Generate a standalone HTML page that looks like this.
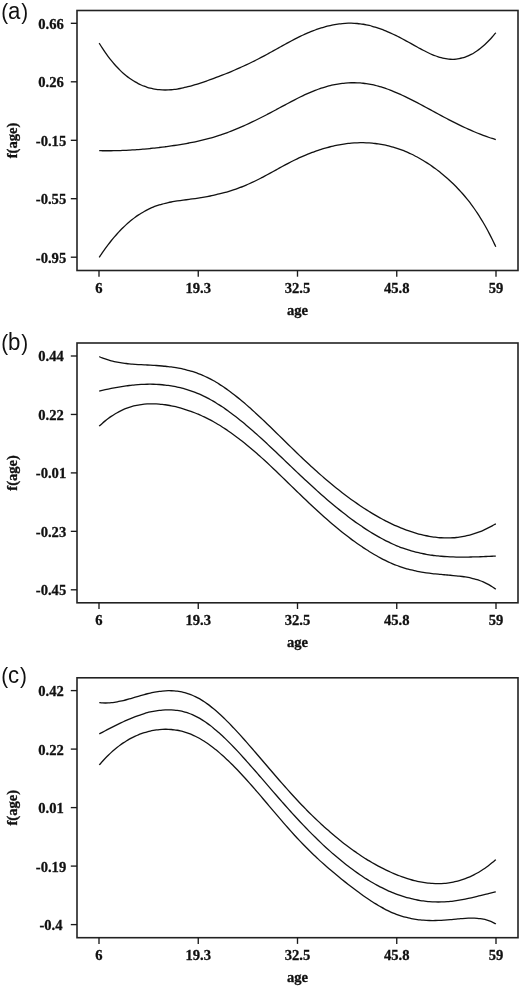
<!DOCTYPE html>
<html><head><meta charset="utf-8"><style>
html,body{margin:0;padding:0;background:#fff;width:520px;height:987px;overflow:hidden}
svg{display:block;will-change:transform}
.ax{fill:none;stroke:#222;stroke-width:1.6;stroke-linecap:square}
.tk{stroke:#1a1a1a;stroke-width:1.35;stroke-linecap:butt}
.cv{fill:none;stroke:#111;stroke-width:1.3}
.tl{font-family:"Liberation Serif",serif;font-weight:bold;font-size:14.6px;fill:#111;stroke:#111;stroke-width:0.3}
.pl{font-family:"Liberation Sans",sans-serif;font-size:23.5px;fill:#111;stroke:#111;stroke-width:0}
</style></head><body>
<svg width="520" height="987" viewBox="0 0 520 987">
<rect x="77.00" y="10.50" width="441.00" height="260.00" class="ax"/>
<line x1="70.80" y1="23.30" x2="77.00" y2="23.30" class="tk"/>
<text x="51.00" y="28.70" class="tl" text-anchor="middle">0.66</text>
<line x1="70.80" y1="81.80" x2="77.00" y2="81.80" class="tk"/>
<text x="51.00" y="87.20" class="tl" text-anchor="middle">0.26</text>
<line x1="70.80" y1="140.30" x2="77.00" y2="140.30" class="tk"/>
<text x="51.00" y="145.70" class="tl" text-anchor="middle">-0.15</text>
<line x1="70.80" y1="198.70" x2="77.00" y2="198.70" class="tk"/>
<text x="51.00" y="204.10" class="tl" text-anchor="middle">-0.55</text>
<line x1="70.80" y1="257.20" x2="77.00" y2="257.20" class="tk"/>
<text x="51.00" y="262.60" class="tl" text-anchor="middle">-0.95</text>
<line x1="99.00" y1="270.50" x2="99.00" y2="276.70" class="tk"/>
<text x="99.00" y="292.80" class="tl" text-anchor="middle">6</text>
<line x1="198.25" y1="270.50" x2="198.25" y2="276.70" class="tk"/>
<text x="198.25" y="292.80" class="tl" text-anchor="middle">19.3</text>
<line x1="297.50" y1="270.50" x2="297.50" y2="276.70" class="tk"/>
<text x="297.50" y="292.80" class="tl" text-anchor="middle">32.5</text>
<line x1="396.75" y1="270.50" x2="396.75" y2="276.70" class="tk"/>
<text x="396.75" y="292.80" class="tl" text-anchor="middle">45.8</text>
<line x1="496.00" y1="270.50" x2="496.00" y2="276.70" class="tk"/>
<text x="496.00" y="292.80" class="tl" text-anchor="middle">59</text>
<text x="297.50" y="314.50" class="tl" text-anchor="middle">age</text>
<text x="0" y="0" class="tl" text-anchor="middle" transform="translate(16.70 140.50) rotate(-90)">f(age)</text>
<text x="0" y="0" class="pl" transform="translate(1.20 18.60) scale(0.945 1)"><tspan style="font-size:21.90px">(</tspan>a<tspan dx="0.9" style="font-size:21.90px">)</tspan></text>
<path d="M99.20 43.17 C99.70 43.96 101.20 46.39 102.20 47.93 C103.20 49.46 104.20 50.95 105.20 52.38 C106.20 53.82 107.20 55.20 108.20 56.54 C109.20 57.87 110.20 59.16 111.20 60.40 C112.20 61.65 113.20 62.84 114.20 63.99 C115.20 65.14 116.20 66.25 117.20 67.31 C118.20 68.37 119.20 69.38 120.20 70.36 C121.20 71.33 122.20 72.26 123.20 73.15 C124.20 74.04 125.20 74.89 126.20 75.70 C127.20 76.51 128.20 77.27 129.20 78.00 C130.20 78.73 131.20 79.42 132.20 80.08 C133.20 80.73 134.20 81.35 135.20 81.93 C136.20 82.51 137.20 83.06 138.20 83.57 C139.20 84.08 140.20 84.56 141.20 85.00 C142.20 85.44 143.20 85.85 144.20 86.23 C145.20 86.61 146.20 86.96 147.20 87.27 C148.20 87.59 149.20 87.87 150.20 88.13 C151.20 88.39 152.20 88.62 153.20 88.82 C154.20 89.02 155.20 89.19 156.20 89.34 C157.20 89.48 158.20 89.60 159.20 89.70 C160.20 89.79 161.20 89.86 162.20 89.91 C163.20 89.96 164.20 89.98 165.20 89.98 C166.20 89.98 167.20 89.96 168.20 89.92 C169.20 89.88 170.20 89.81 171.20 89.73 C172.20 89.65 173.20 89.55 174.20 89.43 C175.20 89.31 176.20 89.17 177.20 89.02 C178.20 88.86 179.20 88.69 180.20 88.51 C181.20 88.32 182.20 88.12 183.20 87.90 C184.20 87.69 185.20 87.46 186.20 87.22 C187.20 86.97 188.20 86.72 189.20 86.45 C190.20 86.19 191.20 85.91 192.20 85.62 C193.20 85.34 194.20 85.04 195.20 84.73 C196.20 84.43 197.20 84.11 198.20 83.79 C199.20 83.47 200.20 83.14 201.20 82.81 C202.20 82.48 203.20 82.14 204.20 81.79 C205.20 81.45 206.20 81.10 207.20 80.75 C208.20 80.40 209.20 80.04 210.20 79.68 C211.20 79.32 212.20 78.96 213.20 78.59 C214.20 78.23 215.20 77.86 216.20 77.48 C217.20 77.11 218.20 76.73 219.20 76.35 C220.20 75.96 221.20 75.58 222.20 75.18 C223.20 74.79 224.20 74.40 225.20 74.00 C226.20 73.60 227.20 73.19 228.20 72.78 C229.20 72.37 230.20 71.96 231.20 71.54 C232.20 71.12 233.20 70.70 234.20 70.27 C235.20 69.84 236.20 69.41 237.20 68.97 C238.20 68.53 239.20 68.09 240.20 67.64 C241.20 67.20 242.20 66.74 243.20 66.28 C244.20 65.82 245.20 65.36 246.20 64.89 C247.20 64.42 248.20 63.95 249.20 63.47 C250.20 62.99 251.20 62.50 252.20 62.01 C253.20 61.52 254.20 61.02 255.20 60.52 C256.20 60.01 257.20 59.50 258.20 58.99 C259.20 58.47 260.20 57.95 261.20 57.43 C262.20 56.90 263.20 56.37 264.20 55.83 C265.20 55.29 266.20 54.75 267.20 54.20 C268.20 53.65 269.20 53.10 270.20 52.55 C271.20 52.00 272.20 51.44 273.20 50.89 C274.20 50.33 275.20 49.77 276.20 49.21 C277.20 48.66 278.20 48.10 279.20 47.54 C280.20 46.99 281.20 46.43 282.20 45.88 C283.20 45.32 284.20 44.77 285.20 44.22 C286.20 43.68 287.20 43.13 288.20 42.59 C289.20 42.05 290.20 41.52 291.20 40.99 C292.20 40.46 293.20 39.94 294.20 39.42 C295.20 38.91 296.20 38.40 297.20 37.90 C298.20 37.39 299.20 36.90 300.20 36.42 C301.20 35.94 302.20 35.46 303.20 35.00 C304.20 34.54 305.20 34.08 306.20 33.64 C307.20 33.20 308.20 32.77 309.20 32.36 C310.20 31.94 311.20 31.53 312.20 31.14 C313.20 30.75 314.20 30.37 315.20 30.00 C316.20 29.63 317.20 29.28 318.20 28.94 C319.20 28.60 320.20 28.27 321.20 27.96 C322.20 27.64 323.20 27.34 324.20 27.06 C325.20 26.77 326.20 26.50 327.20 26.24 C328.20 25.99 329.20 25.75 330.20 25.52 C331.20 25.30 332.20 25.08 333.20 24.89 C334.20 24.70 335.20 24.52 336.20 24.35 C337.20 24.19 338.20 24.04 339.20 23.91 C340.20 23.78 341.20 23.67 342.20 23.58 C343.20 23.48 344.20 23.40 345.20 23.34 C346.20 23.28 347.20 23.24 348.20 23.21 C349.20 23.19 350.20 23.18 351.20 23.19 C352.20 23.20 353.20 23.23 354.20 23.28 C355.20 23.33 356.20 23.40 357.20 23.49 C358.20 23.58 359.20 23.69 360.20 23.81 C361.20 23.94 362.20 24.09 363.20 24.26 C364.20 24.42 365.20 24.61 366.20 24.81 C367.20 25.02 368.20 25.24 369.20 25.48 C370.20 25.72 371.20 25.98 372.20 26.26 C373.20 26.53 374.20 26.82 375.20 27.13 C376.20 27.44 377.20 27.76 378.20 28.10 C379.20 28.44 380.20 28.79 381.20 29.16 C382.20 29.53 383.20 29.91 384.20 30.31 C385.20 30.70 386.20 31.11 387.20 31.54 C388.20 31.96 389.20 32.40 390.20 32.84 C391.20 33.29 392.20 33.75 393.20 34.22 C394.20 34.69 395.20 35.17 396.20 35.66 C397.20 36.15 398.20 36.66 399.20 37.17 C400.20 37.68 401.20 38.20 402.20 38.73 C403.20 39.26 404.20 39.80 405.20 40.35 C406.20 40.89 407.20 41.45 408.20 42.01 C409.20 42.56 410.20 43.12 411.20 43.69 C412.20 44.25 413.20 44.81 414.20 45.37 C415.20 45.93 416.20 46.49 417.20 47.04 C418.20 47.60 419.20 48.15 420.20 48.68 C421.20 49.22 422.20 49.76 423.20 50.27 C424.20 50.79 425.20 51.30 426.20 51.79 C427.20 52.29 428.20 52.77 429.20 53.23 C430.20 53.69 431.20 54.13 432.20 54.55 C433.20 54.97 434.20 55.38 435.20 55.75 C436.20 56.13 437.20 56.48 438.20 56.81 C439.20 57.14 440.20 57.44 441.20 57.71 C442.20 57.97 443.20 58.21 444.20 58.42 C445.20 58.62 446.20 58.80 447.20 58.93 C448.20 59.07 449.20 59.17 450.20 59.23 C451.20 59.29 452.20 59.31 453.20 59.29 C454.20 59.27 455.20 59.21 456.20 59.10 C457.20 59.00 458.20 58.85 459.20 58.67 C460.20 58.48 461.20 58.25 462.20 57.98 C463.20 57.71 464.20 57.39 465.20 57.04 C466.20 56.68 467.20 56.29 468.20 55.84 C469.20 55.40 470.20 54.92 471.20 54.40 C472.20 53.87 473.20 53.30 474.20 52.69 C475.20 52.08 476.20 51.42 477.20 50.73 C478.20 50.03 479.20 49.29 480.20 48.50 C481.20 47.72 482.20 46.89 483.20 46.02 C484.20 45.15 485.20 44.23 486.20 43.27 C487.20 42.31 488.20 41.31 489.20 40.26 C490.20 39.21 491.20 38.12 492.20 36.99 C493.20 35.85 494.60 34.16 495.20 33.45 C495.80 32.73 495.70 32.83 495.80 32.71" class="cv"/>
<path d="M99.20 150.68 C99.70 150.69 101.20 150.72 102.20 150.73 C103.20 150.74 104.20 150.75 105.20 150.75 C106.20 150.76 107.20 150.76 108.20 150.76 C109.20 150.75 110.20 150.75 111.20 150.74 C112.20 150.73 113.20 150.71 114.20 150.69 C115.20 150.68 116.20 150.65 117.20 150.63 C118.20 150.60 119.20 150.57 120.20 150.54 C121.20 150.51 122.20 150.47 123.20 150.43 C124.20 150.39 125.20 150.35 126.20 150.30 C127.20 150.25 128.20 150.20 129.20 150.15 C130.20 150.09 131.20 150.04 132.20 149.97 C133.20 149.91 134.20 149.85 135.20 149.78 C136.20 149.71 137.20 149.64 138.20 149.57 C139.20 149.49 140.20 149.41 141.20 149.33 C142.20 149.25 143.20 149.16 144.20 149.08 C145.20 148.99 146.20 148.90 147.20 148.80 C148.20 148.71 149.20 148.61 150.20 148.51 C151.20 148.41 152.20 148.30 153.20 148.19 C154.20 148.09 155.20 147.98 156.20 147.86 C157.20 147.75 158.20 147.63 159.20 147.51 C160.20 147.39 161.20 147.27 162.20 147.14 C163.20 147.02 164.20 146.89 165.20 146.76 C166.20 146.62 167.20 146.49 168.20 146.35 C169.20 146.21 170.20 146.07 171.20 145.93 C172.20 145.79 173.20 145.64 174.20 145.49 C175.20 145.34 176.20 145.19 177.20 145.03 C178.20 144.88 179.20 144.72 180.20 144.55 C181.20 144.39 182.20 144.22 183.20 144.05 C184.20 143.88 185.20 143.71 186.20 143.53 C187.20 143.35 188.20 143.16 189.20 142.97 C190.20 142.78 191.20 142.59 192.20 142.39 C193.20 142.19 194.20 141.99 195.20 141.77 C196.20 141.56 197.20 141.35 198.20 141.13 C199.20 140.90 200.20 140.67 201.20 140.44 C202.20 140.20 203.20 139.96 204.20 139.71 C205.20 139.46 206.20 139.21 207.20 138.95 C208.20 138.68 209.20 138.41 210.20 138.13 C211.20 137.86 212.20 137.57 213.20 137.28 C214.20 136.98 215.20 136.68 216.20 136.37 C217.20 136.06 218.20 135.74 219.20 135.41 C220.20 135.08 221.20 134.75 222.20 134.40 C223.20 134.06 224.20 133.71 225.20 133.35 C226.20 132.99 227.20 132.62 228.20 132.25 C229.20 131.87 230.20 131.49 231.20 131.10 C232.20 130.71 233.20 130.31 234.20 129.91 C235.20 129.50 236.20 129.09 237.20 128.67 C238.20 128.26 239.20 127.83 240.20 127.40 C241.20 126.97 242.20 126.53 243.20 126.09 C244.20 125.65 245.20 125.20 246.20 124.74 C247.20 124.29 248.20 123.83 249.20 123.36 C250.20 122.90 251.20 122.43 252.20 121.95 C253.20 121.47 254.20 120.99 255.20 120.50 C256.20 120.02 257.20 119.53 258.20 119.03 C259.20 118.53 260.20 118.03 261.20 117.53 C262.20 117.02 263.20 116.51 264.20 116.00 C265.20 115.49 266.20 114.97 267.20 114.45 C268.20 113.93 269.20 113.40 270.20 112.88 C271.20 112.35 272.20 111.82 273.20 111.28 C274.20 110.75 275.20 110.21 276.20 109.67 C277.20 109.13 278.20 108.59 279.20 108.05 C280.20 107.51 281.20 106.97 282.20 106.43 C283.20 105.89 284.20 105.35 285.20 104.81 C286.20 104.27 287.20 103.74 288.20 103.20 C289.20 102.67 290.20 102.14 291.20 101.61 C292.20 101.09 293.20 100.57 294.20 100.05 C295.20 99.53 296.20 99.02 297.20 98.52 C298.20 98.01 299.20 97.51 300.20 97.02 C301.20 96.53 302.20 96.05 303.20 95.58 C304.20 95.10 305.20 94.64 306.20 94.18 C307.20 93.73 308.20 93.28 309.20 92.84 C310.20 92.41 311.20 91.99 312.20 91.58 C313.20 91.17 314.20 90.77 315.20 90.38 C316.20 90.00 317.20 89.62 318.20 89.26 C319.20 88.91 320.20 88.56 321.20 88.23 C322.20 87.90 323.20 87.59 324.20 87.28 C325.20 86.98 326.20 86.69 327.20 86.42 C328.20 86.15 329.20 85.89 330.20 85.65 C331.20 85.40 332.20 85.17 333.20 84.96 C334.20 84.75 335.20 84.55 336.20 84.36 C337.20 84.18 338.20 84.01 339.20 83.86 C340.20 83.70 341.20 83.56 342.20 83.44 C343.20 83.32 344.20 83.21 345.20 83.12 C346.20 83.03 347.20 82.95 348.20 82.90 C349.20 82.84 350.20 82.79 351.20 82.77 C352.20 82.74 353.20 82.73 354.20 82.73 C355.20 82.74 356.20 82.76 357.20 82.80 C358.20 82.84 359.20 82.89 360.20 82.96 C361.20 83.04 362.20 83.13 363.20 83.23 C364.20 83.34 365.20 83.46 366.20 83.60 C367.20 83.74 368.20 83.90 369.20 84.08 C370.20 84.25 371.20 84.44 372.20 84.65 C373.20 84.86 374.20 85.09 375.20 85.34 C376.20 85.58 377.20 85.84 378.20 86.12 C379.20 86.39 380.20 86.68 381.20 86.99 C382.20 87.29 383.20 87.62 384.20 87.95 C385.20 88.28 386.20 88.63 387.20 88.99 C388.20 89.35 389.20 89.72 390.20 90.11 C391.20 90.49 392.20 90.89 393.20 91.30 C394.20 91.71 395.20 92.12 396.20 92.55 C397.20 92.98 398.20 93.42 399.20 93.87 C400.20 94.31 401.20 94.77 402.20 95.23 C403.20 95.70 404.20 96.17 405.20 96.65 C406.20 97.13 407.20 97.62 408.20 98.11 C409.20 98.61 410.20 99.11 411.20 99.61 C412.20 100.12 413.20 100.63 414.20 101.14 C415.20 101.66 416.20 102.18 417.20 102.70 C418.20 103.22 419.20 103.75 420.20 104.28 C421.20 104.81 422.20 105.34 423.20 105.88 C424.20 106.41 425.20 106.95 426.20 107.49 C427.20 108.03 428.20 108.57 429.20 109.11 C430.20 109.65 431.20 110.20 432.20 110.74 C433.20 111.28 434.20 111.82 435.20 112.36 C436.20 112.91 437.20 113.45 438.20 113.99 C439.20 114.53 440.20 115.07 441.20 115.60 C442.20 116.14 443.20 116.67 444.20 117.20 C445.20 117.74 446.20 118.26 447.20 118.79 C448.20 119.31 449.20 119.84 450.20 120.35 C451.20 120.87 452.20 121.38 453.20 121.89 C454.20 122.40 455.20 122.90 456.20 123.40 C457.20 123.90 458.20 124.39 459.20 124.88 C460.20 125.37 461.20 125.85 462.20 126.32 C463.20 126.80 464.20 127.27 465.20 127.73 C466.20 128.20 467.20 128.65 468.20 129.10 C469.20 129.56 470.20 130.00 471.20 130.44 C472.20 130.87 473.20 131.31 474.20 131.73 C475.20 132.15 476.20 132.57 477.20 132.98 C478.20 133.38 479.20 133.78 480.20 134.18 C481.20 134.57 482.20 134.95 483.20 135.33 C484.20 135.71 485.20 136.08 486.20 136.43 C487.20 136.79 488.20 137.14 489.20 137.49 C490.20 137.83 491.20 138.16 492.20 138.48 C493.20 138.81 494.60 139.24 495.20 139.43 C495.80 139.61 495.70 139.58 495.80 139.61" class="cv"/>
<path d="M99.20 257.39 C99.70 256.64 101.20 254.36 102.20 252.90 C103.20 251.45 104.20 250.02 105.20 248.64 C106.20 247.25 107.20 245.90 108.20 244.59 C109.20 243.28 110.20 242.00 111.20 240.75 C112.20 239.51 113.20 238.30 114.20 237.13 C115.20 235.95 116.20 234.81 117.20 233.71 C118.20 232.60 119.20 231.53 120.20 230.49 C121.20 229.44 122.20 228.44 123.20 227.46 C124.20 226.48 125.20 225.54 126.20 224.63 C127.20 223.72 128.20 222.84 129.20 221.99 C130.20 221.13 131.20 220.32 132.20 219.53 C133.20 218.74 134.20 217.98 135.20 217.25 C136.20 216.52 137.20 215.82 138.20 215.14 C139.20 214.47 140.20 213.83 141.20 213.21 C142.20 212.59 143.20 212.01 144.20 211.45 C145.20 210.89 146.20 210.35 147.20 209.85 C148.20 209.34 149.20 208.86 150.20 208.40 C151.20 207.95 152.20 207.52 153.20 207.12 C154.20 206.71 155.20 206.33 156.20 205.97 C157.20 205.62 158.20 205.28 159.20 204.96 C160.20 204.65 161.20 204.35 162.20 204.07 C163.20 203.79 164.20 203.53 165.20 203.29 C166.20 203.04 167.20 202.82 168.20 202.60 C169.20 202.38 170.20 202.18 171.20 201.99 C172.20 201.80 173.20 201.62 174.20 201.45 C175.20 201.28 176.20 201.12 177.20 200.97 C178.20 200.82 179.20 200.67 180.20 200.53 C181.20 200.39 182.20 200.26 183.20 200.12 C184.20 199.99 185.20 199.86 186.20 199.74 C187.20 199.61 188.20 199.48 189.20 199.35 C190.20 199.22 191.20 199.10 192.20 198.96 C193.20 198.83 194.20 198.70 195.20 198.56 C196.20 198.41 197.20 198.27 198.20 198.12 C199.20 197.97 200.20 197.81 201.20 197.65 C202.20 197.48 203.20 197.31 204.20 197.14 C205.20 196.96 206.20 196.78 207.20 196.59 C208.20 196.40 209.20 196.21 210.20 196.01 C211.20 195.81 212.20 195.60 213.20 195.38 C214.20 195.16 215.20 194.94 216.20 194.71 C217.20 194.48 218.20 194.24 219.20 193.99 C220.20 193.74 221.20 193.49 222.20 193.23 C223.20 192.96 224.20 192.69 225.20 192.41 C226.20 192.13 227.20 191.84 228.20 191.54 C229.20 191.24 230.20 190.93 231.20 190.61 C232.20 190.30 233.20 189.97 234.20 189.63 C235.20 189.29 236.20 188.95 237.20 188.59 C238.20 188.23 239.20 187.86 240.20 187.48 C241.20 187.11 242.20 186.72 243.20 186.32 C244.20 185.92 245.20 185.50 246.20 185.08 C247.20 184.66 248.20 184.22 249.20 183.78 C250.20 183.33 251.20 182.87 252.20 182.41 C253.20 181.94 254.20 181.46 255.20 180.97 C256.20 180.48 257.20 179.98 258.20 179.48 C259.20 178.97 260.20 178.45 261.20 177.93 C262.20 177.41 263.20 176.89 264.20 176.35 C265.20 175.82 266.20 175.28 267.20 174.74 C268.20 174.20 269.20 173.66 270.20 173.11 C271.20 172.56 272.20 172.01 273.20 171.46 C274.20 170.91 275.20 170.36 276.20 169.81 C277.20 169.26 278.20 168.71 279.20 168.16 C280.20 167.61 281.20 167.07 282.20 166.53 C283.20 165.98 284.20 165.44 285.20 164.91 C286.20 164.38 287.20 163.85 288.20 163.32 C289.20 162.80 290.20 162.28 291.20 161.77 C292.20 161.27 293.20 160.76 294.20 160.27 C295.20 159.78 296.20 159.30 297.20 158.82 C298.20 158.35 299.20 157.88 300.20 157.43 C301.20 156.97 302.20 156.53 303.20 156.09 C304.20 155.65 305.20 155.23 306.20 154.81 C307.20 154.39 308.20 153.98 309.20 153.59 C310.20 153.19 311.20 152.80 312.20 152.42 C313.20 152.04 314.20 151.68 315.20 151.32 C316.20 150.96 317.20 150.62 318.20 150.28 C319.20 149.94 320.20 149.62 321.20 149.30 C322.20 148.98 323.20 148.68 324.20 148.38 C325.20 148.09 326.20 147.81 327.20 147.53 C328.20 147.26 329.20 147.00 330.20 146.75 C331.20 146.50 332.20 146.26 333.20 146.03 C334.20 145.80 335.20 145.58 336.20 145.38 C337.20 145.17 338.20 144.98 339.20 144.79 C340.20 144.61 341.20 144.44 342.20 144.28 C343.20 144.12 344.20 143.97 345.20 143.84 C346.20 143.70 347.20 143.58 348.20 143.46 C349.20 143.35 350.20 143.25 351.20 143.16 C352.20 143.08 353.20 143.00 354.20 142.94 C355.20 142.88 356.20 142.83 357.20 142.79 C358.20 142.75 359.20 142.73 360.20 142.71 C361.20 142.70 362.20 142.70 363.20 142.72 C364.20 142.73 365.20 142.76 366.20 142.79 C367.20 142.83 368.20 142.89 369.20 142.95 C370.20 143.02 371.20 143.10 372.20 143.19 C373.20 143.28 374.20 143.39 375.20 143.51 C376.20 143.63 377.20 143.76 378.20 143.91 C379.20 144.06 380.20 144.22 381.20 144.39 C382.20 144.57 383.20 144.76 384.20 144.96 C385.20 145.16 386.20 145.38 387.20 145.61 C388.20 145.84 389.20 146.09 390.20 146.35 C391.20 146.61 392.20 146.88 393.20 147.17 C394.20 147.46 395.20 147.77 396.20 148.09 C397.20 148.41 398.20 148.74 399.20 149.09 C400.20 149.44 401.20 149.80 402.20 150.18 C403.20 150.56 404.20 150.95 405.20 151.36 C406.20 151.77 407.20 152.20 408.20 152.64 C409.20 153.08 410.20 153.54 411.20 154.01 C412.20 154.49 413.20 154.97 414.20 155.48 C415.20 155.98 416.20 156.51 417.20 157.04 C418.20 157.58 419.20 158.13 420.20 158.71 C421.20 159.28 422.20 159.86 423.20 160.47 C424.20 161.07 425.20 161.69 426.20 162.33 C427.20 162.97 428.20 163.62 429.20 164.29 C430.20 164.96 431.20 165.65 432.20 166.36 C433.20 167.07 434.20 167.79 435.20 168.53 C436.20 169.27 437.20 170.03 438.20 170.81 C439.20 171.58 440.20 172.38 441.20 173.19 C442.20 174.00 443.20 174.84 444.20 175.68 C445.20 176.53 446.20 177.40 447.20 178.29 C448.20 179.17 449.20 180.08 450.20 181.00 C451.20 181.93 452.20 182.87 453.20 183.84 C454.20 184.81 455.20 185.80 456.20 186.81 C457.20 187.83 458.20 188.87 459.20 189.95 C460.20 191.02 461.20 192.12 462.20 193.25 C463.20 194.38 464.20 195.54 465.20 196.74 C466.20 197.94 467.20 199.17 468.20 200.44 C469.20 201.70 470.20 203.01 471.20 204.35 C472.20 205.70 473.20 207.08 474.20 208.50 C475.20 209.93 476.20 211.39 477.20 212.91 C478.20 214.42 479.20 215.97 480.20 217.58 C481.20 219.18 482.20 220.83 483.20 222.54 C484.20 224.24 485.20 225.99 486.20 227.80 C487.20 229.60 488.20 231.46 489.20 233.37 C490.20 235.29 491.20 237.25 492.20 239.28 C493.20 241.31 494.60 244.28 495.20 245.54 C495.80 246.80 495.70 246.62 495.80 246.84" class="cv"/>
<rect x="77.00" y="343.00" width="441.00" height="259.80" class="ax"/>
<line x1="70.80" y1="356.00" x2="77.00" y2="356.00" class="tk"/>
<text x="51.00" y="361.40" class="tl" text-anchor="middle">0.44</text>
<line x1="70.80" y1="414.45" x2="77.00" y2="414.45" class="tk"/>
<text x="51.00" y="419.85" class="tl" text-anchor="middle">0.22</text>
<line x1="70.80" y1="472.90" x2="77.00" y2="472.90" class="tk"/>
<text x="51.00" y="478.30" class="tl" text-anchor="middle">-0.01</text>
<line x1="70.80" y1="531.35" x2="77.00" y2="531.35" class="tk"/>
<text x="51.00" y="536.75" class="tl" text-anchor="middle">-0.23</text>
<line x1="70.80" y1="589.80" x2="77.00" y2="589.80" class="tk"/>
<text x="51.00" y="595.20" class="tl" text-anchor="middle">-0.45</text>
<line x1="99.00" y1="602.80" x2="99.00" y2="609.00" class="tk"/>
<text x="99.00" y="625.10" class="tl" text-anchor="middle">6</text>
<line x1="198.25" y1="602.80" x2="198.25" y2="609.00" class="tk"/>
<text x="198.25" y="625.10" class="tl" text-anchor="middle">19.3</text>
<line x1="297.50" y1="602.80" x2="297.50" y2="609.00" class="tk"/>
<text x="297.50" y="625.10" class="tl" text-anchor="middle">32.5</text>
<line x1="396.75" y1="602.80" x2="396.75" y2="609.00" class="tk"/>
<text x="396.75" y="625.10" class="tl" text-anchor="middle">45.8</text>
<line x1="496.00" y1="602.80" x2="496.00" y2="609.00" class="tk"/>
<text x="496.00" y="625.10" class="tl" text-anchor="middle">59</text>
<text x="297.50" y="646.80" class="tl" text-anchor="middle">age</text>
<text x="0" y="0" class="tl" text-anchor="middle" transform="translate(16.70 472.90) rotate(-90)">f(age)</text>
<text x="0" y="0" class="pl" transform="translate(1.20 349.70) scale(0.945 1)"><tspan style="font-size:21.90px">(</tspan>b<tspan dx="0.9" style="font-size:21.90px">)</tspan></text>
<path d="M99.20 356.63 C99.70 356.84 101.20 357.48 102.20 357.87 C103.20 358.26 104.20 358.62 105.20 358.97 C106.20 359.31 107.20 359.63 108.20 359.93 C109.20 360.23 110.20 360.51 111.20 360.78 C112.20 361.04 113.20 361.28 114.20 361.51 C115.20 361.74 116.20 361.95 117.20 362.14 C118.20 362.34 119.20 362.52 120.20 362.68 C121.20 362.85 122.20 363.00 123.20 363.14 C124.20 363.28 125.20 363.41 126.20 363.52 C127.20 363.64 128.20 363.75 129.20 363.85 C130.20 363.95 131.20 364.03 132.20 364.12 C133.20 364.20 134.20 364.27 135.20 364.34 C136.20 364.41 137.20 364.47 138.20 364.53 C139.20 364.59 140.20 364.65 141.20 364.70 C142.20 364.75 143.20 364.80 144.20 364.85 C145.20 364.90 146.20 364.95 147.20 365.00 C148.20 365.05 149.20 365.10 150.20 365.16 C151.20 365.21 152.20 365.26 153.20 365.32 C154.20 365.38 155.20 365.45 156.20 365.51 C157.20 365.58 158.20 365.65 159.20 365.73 C160.20 365.81 161.20 365.89 162.20 365.98 C163.20 366.07 164.20 366.16 165.20 366.27 C166.20 366.37 167.20 366.48 168.20 366.60 C169.20 366.71 170.20 366.84 171.20 366.98 C172.20 367.11 173.20 367.26 174.20 367.41 C175.20 367.57 176.20 367.73 177.20 367.91 C178.20 368.08 179.20 368.27 180.20 368.47 C181.20 368.67 182.20 368.88 183.20 369.10 C184.20 369.32 185.20 369.56 186.20 369.81 C187.20 370.06 188.20 370.32 189.20 370.60 C190.20 370.88 191.20 371.17 192.20 371.48 C193.20 371.79 194.20 372.11 195.20 372.45 C196.20 372.79 197.20 373.15 198.20 373.53 C199.20 373.90 200.20 374.29 201.20 374.70 C202.20 375.11 203.20 375.54 204.20 375.99 C205.20 376.44 206.20 376.91 207.20 377.40 C208.20 377.88 209.20 378.39 210.20 378.92 C211.20 379.44 212.20 379.99 213.20 380.55 C214.20 381.11 215.20 381.69 216.20 382.29 C217.20 382.89 218.20 383.51 219.20 384.14 C220.20 384.77 221.20 385.42 222.20 386.08 C223.20 386.74 224.20 387.42 225.20 388.12 C226.20 388.81 227.20 389.52 228.20 390.25 C229.20 390.97 230.20 391.71 231.20 392.46 C232.20 393.21 233.20 393.98 234.20 394.75 C235.20 395.53 236.20 396.32 237.20 397.12 C238.20 397.92 239.20 398.74 240.20 399.56 C241.20 400.38 242.20 401.22 243.20 402.07 C244.20 402.91 245.20 403.77 246.20 404.63 C247.20 405.50 248.20 406.38 249.20 407.26 C250.20 408.14 251.20 409.04 252.20 409.94 C253.20 410.84 254.20 411.75 255.20 412.66 C256.20 413.58 257.20 414.50 258.20 415.43 C259.20 416.36 260.20 417.29 261.20 418.23 C262.20 419.18 263.20 420.12 264.20 421.07 C265.20 422.03 266.20 422.98 267.20 423.94 C268.20 424.90 269.20 425.87 270.20 426.84 C271.20 427.81 272.20 428.78 273.20 429.75 C274.20 430.73 275.20 431.70 276.20 432.68 C277.20 433.66 278.20 434.64 279.20 435.62 C280.20 436.60 281.20 437.58 282.20 438.57 C283.20 439.55 284.20 440.53 285.20 441.51 C286.20 442.50 287.20 443.48 288.20 444.46 C289.20 445.44 290.20 446.42 291.20 447.39 C292.20 448.37 293.20 449.35 294.20 450.32 C295.20 451.29 296.20 452.26 297.20 453.22 C298.20 454.19 299.20 455.15 300.20 456.11 C301.20 457.06 302.20 458.02 303.20 458.96 C304.20 459.91 305.20 460.85 306.20 461.79 C307.20 462.73 308.20 463.66 309.20 464.58 C310.20 465.51 311.20 466.42 312.20 467.34 C313.20 468.25 314.20 469.15 315.20 470.05 C316.20 470.95 317.20 471.85 318.20 472.73 C319.20 473.62 320.20 474.50 321.20 475.37 C322.20 476.25 323.20 477.11 324.20 477.97 C325.20 478.83 326.20 479.69 327.20 480.53 C328.20 481.38 329.20 482.22 330.20 483.05 C331.20 483.88 332.20 484.70 333.20 485.52 C334.20 486.34 335.20 487.15 336.20 487.95 C337.20 488.75 338.20 489.55 339.20 490.34 C340.20 491.12 341.20 491.90 342.20 492.68 C343.20 493.45 344.20 494.21 345.20 494.97 C346.20 495.72 347.20 496.47 348.20 497.21 C349.20 497.95 350.20 498.68 351.20 499.41 C352.20 500.13 353.20 500.85 354.20 501.56 C355.20 502.26 356.20 502.96 357.20 503.65 C358.20 504.34 359.20 505.02 360.20 505.70 C361.20 506.37 362.20 507.03 363.20 507.69 C364.20 508.35 365.20 508.99 366.20 509.63 C367.20 510.27 368.20 510.90 369.20 511.52 C370.20 512.13 371.20 512.75 372.20 513.35 C373.20 513.95 374.20 514.54 375.20 515.12 C376.20 515.70 377.20 516.28 378.20 516.84 C379.20 517.40 380.20 517.96 381.20 518.50 C382.20 519.04 383.20 519.58 384.20 520.10 C385.20 520.62 386.20 521.14 387.20 521.64 C388.20 522.15 389.20 522.64 390.20 523.12 C391.20 523.61 392.20 524.08 393.20 524.54 C394.20 525.01 395.20 525.46 396.20 525.90 C397.20 526.34 398.20 526.77 399.20 527.19 C400.20 527.62 401.20 528.03 402.20 528.42 C403.20 528.82 404.20 529.21 405.20 529.59 C406.20 529.97 407.20 530.33 408.20 530.69 C409.20 531.04 410.20 531.38 411.20 531.72 C412.20 532.05 413.20 532.37 414.20 532.67 C415.20 532.98 416.20 533.28 417.20 533.56 C418.20 533.84 419.20 534.11 420.20 534.37 C421.20 534.63 422.20 534.87 423.20 535.10 C424.20 535.34 425.20 535.55 426.20 535.76 C427.20 535.96 428.20 536.15 429.20 536.33 C430.20 536.51 431.20 536.67 432.20 536.82 C433.20 536.97 434.20 537.10 435.20 537.22 C436.20 537.34 437.20 537.45 438.20 537.54 C439.20 537.63 440.20 537.71 441.20 537.77 C442.20 537.83 443.20 537.87 444.20 537.90 C445.20 537.93 446.20 537.94 447.20 537.94 C448.20 537.94 449.20 537.92 450.20 537.88 C451.20 537.85 452.20 537.80 453.20 537.73 C454.20 537.66 455.20 537.58 456.20 537.48 C457.20 537.37 458.20 537.26 459.20 537.12 C460.20 536.98 461.20 536.83 462.20 536.66 C463.20 536.49 464.20 536.30 465.20 536.09 C466.20 535.88 467.20 535.66 468.20 535.41 C469.20 535.17 470.20 534.91 471.20 534.63 C472.20 534.34 473.20 534.04 474.20 533.73 C475.20 533.41 476.20 533.07 477.20 532.71 C478.20 532.35 479.20 531.97 480.20 531.58 C481.20 531.18 482.20 530.76 483.20 530.32 C484.20 529.89 485.20 529.43 486.20 528.95 C487.20 528.47 488.20 527.97 489.20 527.45 C490.20 526.93 491.20 526.39 492.20 525.83 C493.20 525.27 494.60 524.43 495.20 524.08 C495.80 523.73 495.70 523.78 495.80 523.71" class="cv"/>
<path d="M99.20 391.12 C99.70 391.00 101.20 390.65 102.20 390.41 C103.20 390.18 104.20 389.95 105.20 389.73 C106.20 389.51 107.20 389.29 108.20 389.08 C109.20 388.87 110.20 388.66 111.20 388.46 C112.20 388.26 113.20 388.06 114.20 387.87 C115.20 387.68 116.20 387.50 117.20 387.32 C118.20 387.14 119.20 386.97 120.20 386.81 C121.20 386.64 122.20 386.48 123.20 386.33 C124.20 386.18 125.20 386.04 126.20 385.90 C127.20 385.76 128.20 385.63 129.20 385.51 C130.20 385.39 131.20 385.27 132.20 385.17 C133.20 385.06 134.20 384.96 135.20 384.87 C136.20 384.78 137.20 384.70 138.20 384.63 C139.20 384.56 140.20 384.49 141.20 384.44 C142.20 384.39 143.20 384.34 144.20 384.30 C145.20 384.27 146.20 384.24 147.20 384.23 C148.20 384.21 149.20 384.20 150.20 384.21 C151.20 384.21 152.20 384.22 153.20 384.25 C154.20 384.27 155.20 384.31 156.20 384.35 C157.20 384.40 158.20 384.45 159.20 384.52 C160.20 384.59 161.20 384.67 162.20 384.76 C163.20 384.85 164.20 384.95 165.20 385.07 C166.20 385.18 167.20 385.31 168.20 385.45 C169.20 385.58 170.20 385.73 171.20 385.90 C172.20 386.06 173.20 386.24 174.20 386.43 C175.20 386.62 176.20 386.82 177.20 387.03 C178.20 387.25 179.20 387.48 180.20 387.72 C181.20 387.97 182.20 388.22 183.20 388.49 C184.20 388.76 185.20 389.05 186.20 389.35 C187.20 389.65 188.20 389.96 189.20 390.29 C190.20 390.62 191.20 390.96 192.20 391.32 C193.20 391.68 194.20 392.05 195.20 392.44 C196.20 392.83 197.20 393.23 198.20 393.65 C199.20 394.07 200.20 394.51 201.20 394.96 C202.20 395.42 203.20 395.89 204.20 396.37 C205.20 396.86 206.20 397.36 207.20 397.88 C208.20 398.40 209.20 398.93 210.20 399.48 C211.20 400.03 212.20 400.60 213.20 401.18 C214.20 401.77 215.20 402.36 216.20 402.98 C217.20 403.59 218.20 404.22 219.20 404.86 C220.20 405.50 221.20 406.15 222.20 406.82 C223.20 407.49 224.20 408.17 225.20 408.87 C226.20 409.56 227.20 410.27 228.20 410.99 C229.20 411.71 230.20 412.44 231.20 413.19 C232.20 413.93 233.20 414.68 234.20 415.45 C235.20 416.22 236.20 416.99 237.20 417.78 C238.20 418.57 239.20 419.37 240.20 420.17 C241.20 420.98 242.20 421.80 243.20 422.62 C244.20 423.45 245.20 424.28 246.20 425.13 C247.20 425.97 248.20 426.82 249.20 427.68 C250.20 428.54 251.20 429.41 252.20 430.28 C253.20 431.16 254.20 432.04 255.20 432.93 C256.20 433.81 257.20 434.71 258.20 435.61 C259.20 436.51 260.20 437.42 261.20 438.33 C262.20 439.24 263.20 440.16 264.20 441.08 C265.20 442.00 266.20 442.93 267.20 443.86 C268.20 444.79 269.20 445.72 270.20 446.66 C271.20 447.60 272.20 448.54 273.20 449.48 C274.20 450.43 275.20 451.38 276.20 452.32 C277.20 453.27 278.20 454.22 279.20 455.18 C280.20 456.13 281.20 457.08 282.20 458.04 C283.20 458.99 284.20 459.95 285.20 460.91 C286.20 461.86 287.20 462.82 288.20 463.78 C289.20 464.73 290.20 465.69 291.20 466.64 C292.20 467.60 293.20 468.55 294.20 469.50 C295.20 470.46 296.20 471.41 297.20 472.36 C298.20 473.30 299.20 474.25 300.20 475.19 C301.20 476.14 302.20 477.08 303.20 478.02 C304.20 478.95 305.20 479.89 306.20 480.82 C307.20 481.75 308.20 482.67 309.20 483.59 C310.20 484.51 311.20 485.43 312.20 486.34 C313.20 487.25 314.20 488.16 315.20 489.06 C316.20 489.97 317.20 490.86 318.20 491.76 C319.20 492.65 320.20 493.54 321.20 494.42 C322.20 495.30 323.20 496.18 324.20 497.05 C325.20 497.92 326.20 498.78 327.20 499.64 C328.20 500.50 329.20 501.35 330.20 502.19 C331.20 503.04 332.20 503.88 333.20 504.71 C334.20 505.54 335.20 506.37 336.20 507.19 C337.20 508.01 338.20 508.82 339.20 509.62 C340.20 510.43 341.20 511.22 342.20 512.01 C343.20 512.80 344.20 513.58 345.20 514.36 C346.20 515.13 347.20 515.90 348.20 516.66 C349.20 517.41 350.20 518.16 351.20 518.91 C352.20 519.65 353.20 520.38 354.20 521.10 C355.20 521.83 356.20 522.54 357.20 523.25 C358.20 523.95 359.20 524.65 360.20 525.34 C361.20 526.03 362.20 526.71 363.20 527.37 C364.20 528.04 365.20 528.70 366.20 529.35 C367.20 530.00 368.20 530.64 369.20 531.27 C370.20 531.90 371.20 532.52 372.20 533.12 C373.20 533.73 374.20 534.33 375.20 534.92 C376.20 535.50 377.20 536.08 378.20 536.64 C379.20 537.21 380.20 537.76 381.20 538.30 C382.20 538.85 383.20 539.38 384.20 539.90 C385.20 540.42 386.20 540.92 387.20 541.42 C388.20 541.91 389.20 542.40 390.20 542.87 C391.20 543.34 392.20 543.80 393.20 544.25 C394.20 544.69 395.20 545.13 396.20 545.55 C397.20 545.97 398.20 546.37 399.20 546.77 C400.20 547.16 401.20 547.55 402.20 547.91 C403.20 548.28 404.20 548.64 405.20 548.98 C406.20 549.32 407.20 549.65 408.20 549.96 C409.20 550.27 410.20 550.58 411.20 550.87 C412.20 551.15 413.20 551.43 414.20 551.70 C415.20 551.96 416.20 552.21 417.20 552.45 C418.20 552.69 419.20 552.92 420.20 553.14 C421.20 553.36 422.20 553.57 423.20 553.76 C424.20 553.96 425.20 554.15 426.20 554.32 C427.20 554.50 428.20 554.66 429.20 554.82 C430.20 554.98 431.20 555.12 432.20 555.26 C433.20 555.40 434.20 555.52 435.20 555.64 C436.20 555.76 437.20 555.87 438.20 555.97 C439.20 556.08 440.20 556.17 441.20 556.26 C442.20 556.34 443.20 556.42 444.20 556.49 C445.20 556.56 446.20 556.63 447.20 556.69 C448.20 556.74 449.20 556.79 450.20 556.84 C451.20 556.88 452.20 556.92 453.20 556.95 C454.20 556.98 455.20 557.01 456.20 557.03 C457.20 557.05 458.20 557.06 459.20 557.07 C460.20 557.08 461.20 557.09 462.20 557.09 C463.20 557.09 464.20 557.09 465.20 557.08 C466.20 557.07 467.20 557.06 468.20 557.04 C469.20 557.03 470.20 557.01 471.20 556.99 C472.20 556.97 473.20 556.94 474.20 556.92 C475.20 556.89 476.20 556.86 477.20 556.83 C478.20 556.80 479.20 556.76 480.20 556.73 C481.20 556.69 482.20 556.65 483.20 556.61 C484.20 556.58 485.20 556.54 486.20 556.50 C487.20 556.46 488.20 556.42 489.20 556.38 C490.20 556.33 491.20 556.29 492.20 556.25 C493.20 556.21 494.60 556.16 495.20 556.13 C495.80 556.11 495.70 556.11 495.80 556.11" class="cv"/>
<path d="M99.20 426.14 C99.70 425.68 101.20 424.28 102.20 423.40 C103.20 422.52 104.20 421.68 105.20 420.87 C106.20 420.05 107.20 419.28 108.20 418.53 C109.20 417.79 110.20 417.08 111.20 416.40 C112.20 415.72 113.20 415.07 114.20 414.46 C115.20 413.84 116.20 413.25 117.20 412.70 C118.20 412.14 119.20 411.61 120.20 411.12 C121.20 410.62 122.20 410.15 123.20 409.71 C124.20 409.27 125.20 408.85 126.20 408.46 C127.20 408.08 128.20 407.72 129.20 407.38 C130.20 407.05 131.20 406.74 132.20 406.46 C133.20 406.17 134.20 405.91 135.20 405.68 C136.20 405.44 137.20 405.23 138.20 405.04 C139.20 404.85 140.20 404.69 141.20 404.54 C142.20 404.40 143.20 404.27 144.20 404.17 C145.20 404.07 146.20 403.99 147.20 403.93 C148.20 403.86 149.20 403.82 150.20 403.80 C151.20 403.78 152.20 403.77 153.20 403.78 C154.20 403.80 155.20 403.83 156.20 403.88 C157.20 403.93 158.20 403.99 159.20 404.08 C160.20 404.16 161.20 404.26 162.20 404.37 C163.20 404.49 164.20 404.62 165.20 404.76 C166.20 404.91 167.20 405.07 168.20 405.24 C169.20 405.42 170.20 405.61 171.20 405.81 C172.20 406.01 173.20 406.23 174.20 406.46 C175.20 406.69 176.20 406.93 177.20 407.18 C178.20 407.44 179.20 407.71 180.20 407.98 C181.20 408.26 182.20 408.55 183.20 408.85 C184.20 409.15 185.20 409.46 186.20 409.78 C187.20 410.11 188.20 410.44 189.20 410.78 C190.20 411.13 191.20 411.48 192.20 411.85 C193.20 412.22 194.20 412.60 195.20 412.99 C196.20 413.39 197.20 413.79 198.20 414.21 C199.20 414.63 200.20 415.06 201.20 415.51 C202.20 415.95 203.20 416.41 204.20 416.88 C205.20 417.36 206.20 417.85 207.20 418.35 C208.20 418.85 209.20 419.37 210.20 419.90 C211.20 420.43 212.20 420.98 213.20 421.54 C214.20 422.10 215.20 422.67 216.20 423.26 C217.20 423.84 218.20 424.44 219.20 425.06 C220.20 425.67 221.20 426.30 222.20 426.93 C223.20 427.57 224.20 428.22 225.20 428.89 C226.20 429.55 227.20 430.22 228.20 430.91 C229.20 431.60 230.20 432.30 231.20 433.01 C232.20 433.72 233.20 434.44 234.20 435.17 C235.20 435.91 236.20 436.65 237.20 437.40 C238.20 438.16 239.20 438.92 240.20 439.70 C241.20 440.47 242.20 441.26 243.20 442.06 C244.20 442.85 245.20 443.66 246.20 444.47 C247.20 445.29 248.20 446.11 249.20 446.94 C250.20 447.78 251.20 448.62 252.20 449.47 C253.20 450.32 254.20 451.18 255.20 452.05 C256.20 452.92 257.20 453.79 258.20 454.68 C259.20 455.56 260.20 456.46 261.20 457.36 C262.20 458.26 263.20 459.16 264.20 460.08 C265.20 460.99 266.20 461.91 267.20 462.84 C268.20 463.77 269.20 464.70 270.20 465.64 C271.20 466.58 272.20 467.52 273.20 468.47 C274.20 469.42 275.20 470.37 276.20 471.33 C277.20 472.28 278.20 473.24 279.20 474.21 C280.20 475.17 281.20 476.13 282.20 477.10 C283.20 478.07 284.20 479.04 285.20 480.01 C286.20 480.98 287.20 481.95 288.20 482.93 C289.20 483.90 290.20 484.87 291.20 485.85 C292.20 486.82 293.20 487.79 294.20 488.77 C295.20 489.74 296.20 490.71 297.20 491.68 C298.20 492.65 299.20 493.61 300.20 494.58 C301.20 495.54 302.20 496.51 303.20 497.46 C304.20 498.42 305.20 499.38 306.20 500.33 C307.20 501.28 308.20 502.22 309.20 503.17 C310.20 504.11 311.20 505.05 312.20 505.98 C313.20 506.91 314.20 507.84 315.20 508.76 C316.20 509.68 317.20 510.60 318.20 511.51 C319.20 512.42 320.20 513.33 321.20 514.23 C322.20 515.13 323.20 516.02 324.20 516.91 C325.20 517.80 326.20 518.68 327.20 519.56 C328.20 520.43 329.20 521.30 330.20 522.16 C331.20 523.02 332.20 523.88 333.20 524.72 C334.20 525.57 335.20 526.41 336.20 527.24 C337.20 528.07 338.20 528.90 339.20 529.72 C340.20 530.53 341.20 531.34 342.20 532.14 C343.20 532.94 344.20 533.73 345.20 534.52 C346.20 535.30 347.20 536.07 348.20 536.84 C349.20 537.60 350.20 538.36 351.20 539.11 C352.20 539.86 353.20 540.59 354.20 541.32 C355.20 542.05 356.20 542.77 357.20 543.48 C358.20 544.18 359.20 544.88 360.20 545.57 C361.20 546.26 362.20 546.94 363.20 547.60 C364.20 548.27 365.20 548.92 366.20 549.57 C367.20 550.21 368.20 550.85 369.20 551.47 C370.20 552.09 371.20 552.70 372.20 553.30 C373.20 553.90 374.20 554.49 375.20 555.06 C376.20 555.64 377.20 556.20 378.20 556.75 C379.20 557.30 380.20 557.84 381.20 558.37 C382.20 558.89 383.20 559.41 384.20 559.90 C385.20 560.40 386.20 560.89 387.20 561.36 C388.20 561.84 389.20 562.30 390.20 562.74 C391.20 563.19 392.20 563.62 393.20 564.04 C394.20 564.45 395.20 564.86 396.20 565.24 C397.20 565.63 398.20 566.01 399.20 566.37 C400.20 566.73 401.20 567.07 402.20 567.40 C403.20 567.73 404.20 568.04 405.20 568.34 C406.20 568.64 407.20 568.92 408.20 569.19 C409.20 569.46 410.20 569.72 411.20 569.96 C412.20 570.21 413.20 570.44 414.20 570.65 C415.20 570.87 416.20 571.08 417.20 571.28 C418.20 571.47 419.20 571.66 420.20 571.83 C421.20 572.01 422.20 572.17 423.20 572.33 C424.20 572.49 425.20 572.64 426.20 572.78 C427.20 572.92 428.20 573.05 429.20 573.18 C430.20 573.31 431.20 573.43 432.20 573.54 C433.20 573.66 434.20 573.77 435.20 573.87 C436.20 573.98 437.20 574.08 438.20 574.18 C439.20 574.27 440.20 574.37 441.20 574.46 C442.20 574.55 443.20 574.64 444.20 574.73 C445.20 574.82 446.20 574.91 447.20 575.00 C448.20 575.09 449.20 575.17 450.20 575.26 C451.20 575.35 452.20 575.44 453.20 575.53 C454.20 575.62 455.20 575.72 456.20 575.82 C457.20 575.92 458.20 576.02 459.20 576.14 C460.20 576.26 461.20 576.38 462.20 576.51 C463.20 576.65 464.20 576.79 465.20 576.95 C466.20 577.11 467.20 577.28 468.20 577.47 C469.20 577.66 470.20 577.87 471.20 578.10 C472.20 578.33 473.20 578.57 474.20 578.84 C475.20 579.11 476.20 579.40 477.20 579.72 C478.20 580.04 479.20 580.38 480.20 580.75 C481.20 581.12 482.20 581.52 483.20 581.95 C484.20 582.38 485.20 582.84 486.20 583.34 C487.20 583.83 488.20 584.36 489.20 584.93 C490.20 585.50 491.20 586.10 492.20 586.74 C493.20 587.38 494.60 588.37 495.20 588.79 C495.80 589.20 495.70 589.15 495.80 589.23" class="cv"/>
<rect x="77.00" y="677.80" width="441.00" height="259.90" class="ax"/>
<line x1="70.80" y1="690.60" x2="77.00" y2="690.60" class="tk"/>
<text x="51.00" y="696.00" class="tl" text-anchor="middle">0.42</text>
<line x1="70.80" y1="749.10" x2="77.00" y2="749.10" class="tk"/>
<text x="51.00" y="754.50" class="tl" text-anchor="middle">0.22</text>
<line x1="70.80" y1="807.60" x2="77.00" y2="807.60" class="tk"/>
<text x="51.00" y="813.00" class="tl" text-anchor="middle">0.01</text>
<line x1="70.80" y1="866.10" x2="77.00" y2="866.10" class="tk"/>
<text x="51.00" y="871.50" class="tl" text-anchor="middle">-0.19</text>
<line x1="70.80" y1="924.60" x2="77.00" y2="924.60" class="tk"/>
<text x="51.00" y="930.00" class="tl" text-anchor="middle">-0.4</text>
<line x1="99.00" y1="937.70" x2="99.00" y2="943.90" class="tk"/>
<text x="99.00" y="960.00" class="tl" text-anchor="middle">6</text>
<line x1="198.25" y1="937.70" x2="198.25" y2="943.90" class="tk"/>
<text x="198.25" y="960.00" class="tl" text-anchor="middle">19.3</text>
<line x1="297.50" y1="937.70" x2="297.50" y2="943.90" class="tk"/>
<text x="297.50" y="960.00" class="tl" text-anchor="middle">32.5</text>
<line x1="396.75" y1="937.70" x2="396.75" y2="943.90" class="tk"/>
<text x="396.75" y="960.00" class="tl" text-anchor="middle">45.8</text>
<line x1="496.00" y1="937.70" x2="496.00" y2="943.90" class="tk"/>
<text x="496.00" y="960.00" class="tl" text-anchor="middle">59</text>
<text x="297.50" y="981.70" class="tl" text-anchor="middle">age</text>
<text x="0" y="0" class="tl" text-anchor="middle" transform="translate(16.70 807.75) rotate(-90)">f(age)</text>
<text x="0" y="0" class="pl" transform="translate(1.20 682.60) scale(0.945 1)"><tspan style="font-size:21.90px">(</tspan>c<tspan dx="0.9" style="font-size:21.90px">)</tspan></text>
<path d="M99.30 702.55 C99.80 702.60 101.30 702.79 102.30 702.86 C103.30 702.93 104.30 702.97 105.30 702.98 C106.30 702.99 107.30 702.96 108.30 702.92 C109.30 702.87 110.30 702.79 111.30 702.69 C112.30 702.59 113.30 702.47 114.30 702.32 C115.30 702.18 116.30 702.01 117.30 701.82 C118.30 701.64 119.30 701.44 120.30 701.22 C121.30 701.00 122.30 700.77 123.30 700.52 C124.30 700.28 125.30 700.02 126.30 699.75 C127.30 699.48 128.30 699.20 129.30 698.92 C130.30 698.64 131.30 698.35 132.30 698.05 C133.30 697.76 134.30 697.46 135.30 697.16 C136.30 696.87 137.30 696.57 138.30 696.27 C139.30 695.98 140.30 695.68 141.30 695.39 C142.30 695.11 143.30 694.82 144.30 694.55 C145.30 694.27 146.30 694.01 147.30 693.75 C148.30 693.50 149.30 693.25 150.30 693.02 C151.30 692.79 152.30 692.57 153.30 692.37 C154.30 692.17 155.30 691.99 156.30 691.82 C157.30 691.66 158.30 691.50 159.30 691.37 C160.30 691.24 161.30 691.12 162.30 691.03 C163.30 690.94 164.30 690.86 165.30 690.81 C166.30 690.75 167.30 690.72 168.30 690.71 C169.30 690.69 170.30 690.70 171.30 690.74 C172.30 690.77 173.30 690.83 174.30 690.91 C175.30 690.99 176.30 691.09 177.30 691.22 C178.30 691.35 179.30 691.51 180.30 691.69 C181.30 691.88 182.30 692.09 183.30 692.33 C184.30 692.56 185.30 692.83 186.30 693.13 C187.30 693.42 188.30 693.75 189.30 694.10 C190.30 694.46 191.30 694.85 192.30 695.26 C193.30 695.68 194.30 696.13 195.30 696.62 C196.30 697.10 197.30 697.62 198.30 698.16 C199.30 698.71 200.30 699.29 201.30 699.90 C202.30 700.51 203.30 701.14 204.30 701.81 C205.30 702.47 206.30 703.17 207.30 703.89 C208.30 704.61 209.30 705.36 210.30 706.13 C211.30 706.90 212.30 707.70 213.30 708.52 C214.30 709.34 215.30 710.18 216.30 711.05 C217.30 711.91 218.30 712.80 219.30 713.70 C220.30 714.61 221.30 715.54 222.30 716.48 C223.30 717.43 224.30 718.39 225.30 719.37 C226.30 720.35 227.30 721.35 228.30 722.36 C229.30 723.37 230.30 724.40 231.30 725.45 C232.30 726.49 233.30 727.54 234.30 728.61 C235.30 729.68 236.30 730.76 237.30 731.85 C238.30 732.94 239.30 734.04 240.30 735.15 C241.30 736.26 242.30 737.38 243.30 738.51 C244.30 739.63 245.30 740.77 246.30 741.90 C247.30 743.04 248.30 744.19 249.30 745.34 C250.30 746.49 251.30 747.64 252.30 748.80 C253.30 749.95 254.30 751.12 255.30 752.28 C256.30 753.44 257.30 754.60 258.30 755.77 C259.30 756.94 260.30 758.10 261.30 759.27 C262.30 760.44 263.30 761.61 264.30 762.78 C265.30 763.95 266.30 765.12 267.30 766.29 C268.30 767.45 269.30 768.62 270.30 769.79 C271.30 770.95 272.30 772.12 273.30 773.28 C274.30 774.44 275.30 775.60 276.30 776.75 C277.30 777.91 278.30 779.06 279.30 780.21 C280.30 781.36 281.30 782.50 282.30 783.64 C283.30 784.78 284.30 785.92 285.30 787.05 C286.30 788.17 287.30 789.30 288.30 790.41 C289.30 791.53 290.30 792.64 291.30 793.74 C292.30 794.84 293.30 795.94 294.30 797.03 C295.30 798.11 296.30 799.19 297.30 800.26 C298.30 801.33 299.30 802.39 300.30 803.44 C301.30 804.50 302.30 805.54 303.30 806.57 C304.30 807.61 305.30 808.63 306.30 809.65 C307.30 810.66 308.30 811.67 309.30 812.67 C310.30 813.66 311.30 814.65 312.30 815.63 C313.30 816.61 314.30 817.58 315.30 818.54 C316.30 819.50 317.30 820.45 318.30 821.39 C319.30 822.34 320.30 823.27 321.30 824.19 C322.30 825.11 323.30 826.03 324.30 826.93 C325.30 827.83 326.30 828.73 327.30 829.61 C328.30 830.50 329.30 831.37 330.30 832.24 C331.30 833.10 332.30 833.96 333.30 834.81 C334.30 835.65 335.30 836.49 336.30 837.31 C337.30 838.14 338.30 838.96 339.30 839.76 C340.30 840.57 341.30 841.37 342.30 842.15 C343.30 842.94 344.30 843.72 345.30 844.48 C346.30 845.25 347.30 846.01 348.30 846.76 C349.30 847.50 350.30 848.24 351.30 848.97 C352.30 849.69 353.30 850.41 354.30 851.11 C355.30 851.82 356.30 852.52 357.30 853.20 C358.30 853.89 359.30 854.56 360.30 855.23 C361.30 855.89 362.30 856.55 363.30 857.19 C364.30 857.84 365.30 858.47 366.30 859.09 C367.30 859.72 368.30 860.33 369.30 860.93 C370.30 861.53 371.30 862.12 372.30 862.71 C373.30 863.29 374.30 863.86 375.30 864.42 C376.30 864.98 377.30 865.52 378.30 866.06 C379.30 866.60 380.30 867.13 381.30 867.64 C382.30 868.16 383.30 868.67 384.30 869.16 C385.30 869.66 386.30 870.14 387.30 870.61 C388.30 871.08 389.30 871.55 390.30 872.00 C391.30 872.45 392.30 872.89 393.30 873.31 C394.30 873.74 395.30 874.16 396.30 874.57 C397.30 874.97 398.30 875.37 399.30 875.75 C400.30 876.13 401.30 876.50 402.30 876.86 C403.30 877.22 404.30 877.57 405.30 877.90 C406.30 878.24 407.30 878.56 408.30 878.87 C409.30 879.17 410.30 879.47 411.30 879.75 C412.30 880.03 413.30 880.30 414.30 880.55 C415.30 880.80 416.30 881.04 417.30 881.27 C418.30 881.49 419.30 881.70 420.30 881.90 C421.30 882.09 422.30 882.27 423.30 882.43 C424.30 882.59 425.30 882.74 426.30 882.87 C427.30 883.00 428.30 883.12 429.30 883.22 C430.30 883.31 431.30 883.40 432.30 883.46 C433.30 883.52 434.30 883.57 435.30 883.60 C436.30 883.63 437.30 883.64 438.30 883.63 C439.30 883.63 440.30 883.60 441.30 883.56 C442.30 883.51 443.30 883.45 444.30 883.37 C445.30 883.29 446.30 883.19 447.30 883.07 C448.30 882.94 449.30 882.80 450.30 882.64 C451.30 882.48 452.30 882.30 453.30 882.10 C454.30 881.90 455.30 881.68 456.30 881.43 C457.30 881.19 458.30 880.92 459.30 880.64 C460.30 880.35 461.30 880.04 462.30 879.71 C463.30 879.38 464.30 879.03 465.30 878.65 C466.30 878.27 467.30 877.88 468.30 877.45 C469.30 877.03 470.30 876.59 471.30 876.12 C472.30 875.65 473.30 875.16 474.30 874.64 C475.30 874.12 476.30 873.58 477.30 873.02 C478.30 872.45 479.30 871.86 480.30 871.25 C481.30 870.63 482.30 869.99 483.30 869.32 C484.30 868.66 485.30 867.96 486.30 867.25 C487.30 866.53 488.30 865.78 489.30 865.01 C490.30 864.24 491.30 863.44 492.30 862.62 C493.30 861.79 494.72 860.56 495.30 860.06 C495.88 859.56 495.72 859.69 495.80 859.61" class="cv"/>
<path d="M99.30 733.91 C99.80 733.64 101.30 732.84 102.30 732.31 C103.30 731.79 104.30 731.26 105.30 730.73 C106.30 730.21 107.30 729.68 108.30 729.16 C109.30 728.64 110.30 728.13 111.30 727.61 C112.30 727.10 113.30 726.59 114.30 726.09 C115.30 725.59 116.30 725.09 117.30 724.60 C118.30 724.11 119.30 723.63 120.30 723.15 C121.30 722.67 122.30 722.20 123.30 721.74 C124.30 721.28 125.30 720.82 126.30 720.38 C127.30 719.94 128.30 719.50 129.30 719.08 C130.30 718.65 131.30 718.24 132.30 717.83 C133.30 717.43 134.30 717.04 135.30 716.66 C136.30 716.28 137.30 715.91 138.30 715.55 C139.30 715.20 140.30 714.85 141.30 714.53 C142.30 714.20 143.30 713.88 144.30 713.58 C145.30 713.29 146.30 713.00 147.30 712.73 C148.30 712.46 149.30 712.21 150.30 711.98 C151.30 711.74 152.30 711.52 153.30 711.32 C154.30 711.12 155.30 710.94 156.30 710.78 C157.30 710.61 158.30 710.47 159.30 710.34 C160.30 710.22 161.30 710.11 162.30 710.03 C163.30 709.94 164.30 709.88 165.30 709.84 C166.30 709.80 167.30 709.77 168.30 709.78 C169.30 709.78 170.30 709.81 171.30 709.85 C172.30 709.90 173.30 709.98 174.30 710.07 C175.30 710.17 176.30 710.29 177.30 710.44 C178.30 710.59 179.30 710.76 180.30 710.96 C181.30 711.16 182.30 711.39 183.30 711.64 C184.30 711.90 185.30 712.18 186.30 712.49 C187.30 712.80 188.30 713.14 189.30 713.51 C190.30 713.87 191.30 714.27 192.30 714.70 C193.30 715.13 194.30 715.59 195.30 716.08 C196.30 716.57 197.30 717.09 198.30 717.64 C199.30 718.19 200.30 718.77 201.30 719.38 C202.30 719.99 203.30 720.62 204.30 721.29 C205.30 721.95 206.30 722.64 207.30 723.36 C208.30 724.07 209.30 724.82 210.30 725.58 C211.30 726.34 212.30 727.13 213.30 727.94 C214.30 728.75 215.30 729.59 216.30 730.44 C217.30 731.29 218.30 732.17 219.30 733.06 C220.30 733.96 221.30 734.87 222.30 735.80 C223.30 736.73 224.30 737.68 225.30 738.65 C226.30 739.61 227.30 740.60 228.30 741.59 C229.30 742.59 230.30 743.60 231.30 744.62 C232.30 745.65 233.30 746.69 234.30 747.74 C235.30 748.79 236.30 749.85 237.30 750.92 C238.30 751.99 239.30 753.08 240.30 754.17 C241.30 755.26 242.30 756.36 243.30 757.47 C244.30 758.58 245.30 759.70 246.30 760.82 C247.30 761.94 248.30 763.07 249.30 764.20 C250.30 765.33 251.30 766.47 252.30 767.61 C253.30 768.75 254.30 769.89 255.30 771.04 C256.30 772.18 257.30 773.33 258.30 774.48 C259.30 775.63 260.30 776.79 261.30 777.94 C262.30 779.10 263.30 780.25 264.30 781.41 C265.30 782.57 266.30 783.72 267.30 784.88 C268.30 786.04 269.30 787.19 270.30 788.35 C271.30 789.51 272.30 790.66 273.30 791.81 C274.30 792.97 275.30 794.12 276.30 795.27 C277.30 796.42 278.30 797.56 279.30 798.71 C280.30 799.85 281.30 800.99 282.30 802.13 C283.30 803.26 284.30 804.40 285.30 805.52 C286.30 806.65 287.30 807.78 288.30 808.89 C289.30 810.01 290.30 811.12 291.30 812.23 C292.30 813.33 293.30 814.44 294.30 815.53 C295.30 816.62 296.30 817.71 297.30 818.79 C298.30 819.86 299.30 820.93 300.30 822.00 C301.30 823.06 302.30 824.11 303.30 825.16 C304.30 826.21 305.30 827.25 306.30 828.28 C307.30 829.31 308.30 830.33 309.30 831.35 C310.30 832.36 311.30 833.37 312.30 834.36 C313.30 835.36 314.30 836.35 315.30 837.33 C316.30 838.31 317.30 839.28 318.30 840.25 C319.30 841.21 320.30 842.16 321.30 843.11 C322.30 844.05 323.30 844.99 324.30 845.91 C325.30 846.84 326.30 847.76 327.30 848.66 C328.30 849.57 329.30 850.47 330.30 851.36 C331.30 852.25 332.30 853.13 333.30 853.99 C334.30 854.86 335.30 855.72 336.30 856.57 C337.30 857.42 338.30 858.26 339.30 859.09 C340.30 859.92 341.30 860.74 342.30 861.55 C343.30 862.35 344.30 863.15 345.30 863.94 C346.30 864.73 347.30 865.50 348.30 866.27 C349.30 867.04 350.30 867.79 351.30 868.54 C352.30 869.28 353.30 870.02 354.30 870.74 C355.30 871.46 356.30 872.17 357.30 872.87 C358.30 873.57 359.30 874.26 360.30 874.94 C361.30 875.62 362.30 876.28 363.30 876.94 C364.30 877.59 365.30 878.24 366.30 878.87 C367.30 879.50 368.30 880.12 369.30 880.72 C370.30 881.33 371.30 881.93 372.30 882.51 C373.30 883.09 374.30 883.66 375.30 884.22 C376.30 884.78 377.30 885.33 378.30 885.86 C379.30 886.39 380.30 886.92 381.30 887.42 C382.30 887.93 383.30 888.43 384.30 888.91 C385.30 889.39 386.30 889.86 387.30 890.32 C388.30 890.78 389.30 891.22 390.30 891.65 C391.30 892.08 392.30 892.50 393.30 892.90 C394.30 893.30 395.30 893.70 396.30 894.07 C397.30 894.45 398.30 894.81 399.30 895.16 C400.30 895.51 401.30 895.85 402.30 896.17 C403.30 896.49 404.30 896.80 405.30 897.09 C406.30 897.39 407.30 897.67 408.30 897.94 C409.30 898.21 410.30 898.46 411.30 898.70 C412.30 898.95 413.30 899.17 414.30 899.39 C415.30 899.60 416.30 899.80 417.30 899.99 C418.30 900.18 419.30 900.35 420.30 900.52 C421.30 900.68 422.30 900.83 423.30 900.96 C424.30 901.10 425.30 901.22 426.30 901.33 C427.30 901.43 428.30 901.53 429.30 901.61 C430.30 901.69 431.30 901.76 432.30 901.82 C433.30 901.88 434.30 901.92 435.30 901.95 C436.30 901.98 437.30 901.99 438.30 902.00 C439.30 902.00 440.30 901.99 441.30 901.97 C442.30 901.95 443.30 901.91 444.30 901.86 C445.30 901.82 446.30 901.75 447.30 901.68 C448.30 901.61 449.30 901.52 450.30 901.42 C451.30 901.32 452.30 901.21 453.30 901.08 C454.30 900.96 455.30 900.82 456.30 900.67 C457.30 900.52 458.30 900.36 459.30 900.19 C460.30 900.03 461.30 899.85 462.30 899.66 C463.30 899.47 464.30 899.27 465.30 899.07 C466.30 898.87 467.30 898.65 468.30 898.44 C469.30 898.22 470.30 898.00 471.30 897.77 C472.30 897.54 473.30 897.31 474.30 897.07 C475.30 896.83 476.30 896.59 477.30 896.35 C478.30 896.11 479.30 895.86 480.30 895.62 C481.30 895.37 482.30 895.12 483.30 894.87 C484.30 894.63 485.30 894.38 486.30 894.13 C487.30 893.89 488.30 893.64 489.30 893.40 C490.30 893.16 491.30 892.91 492.30 892.68 C493.30 892.44 494.72 892.12 495.30 891.98 C495.88 891.85 495.72 891.89 495.80 891.87" class="cv"/>
<path d="M99.30 764.95 C99.80 764.37 101.30 762.61 102.30 761.49 C103.30 760.38 104.30 759.29 105.30 758.25 C106.30 757.20 107.30 756.19 108.30 755.20 C109.30 754.22 110.30 753.28 111.30 752.36 C112.30 751.44 113.30 750.56 114.30 749.71 C115.30 748.86 116.30 748.04 117.30 747.25 C118.30 746.46 119.30 745.70 120.30 744.97 C121.30 744.24 122.30 743.54 123.30 742.87 C124.30 742.20 125.30 741.55 126.30 740.94 C127.30 740.32 128.30 739.74 129.30 739.18 C130.30 738.61 131.30 738.08 132.30 737.57 C133.30 737.07 134.30 736.59 135.30 736.13 C136.30 735.67 137.30 735.24 138.30 734.84 C139.30 734.43 140.30 734.05 141.30 733.69 C142.30 733.33 143.30 733.00 144.30 732.68 C145.30 732.37 146.30 732.08 147.30 731.81 C148.30 731.54 149.30 731.29 150.30 731.07 C151.30 730.84 152.30 730.64 153.30 730.45 C154.30 730.27 155.30 730.10 156.30 729.96 C157.30 729.82 158.30 729.69 159.30 729.60 C160.30 729.50 161.30 729.42 162.30 729.36 C163.30 729.31 164.30 729.27 165.30 729.26 C166.30 729.25 167.30 729.26 168.30 729.30 C169.30 729.34 170.30 729.39 171.30 729.48 C172.30 729.56 173.30 729.66 174.30 729.79 C175.30 729.92 176.30 730.08 177.30 730.26 C178.30 730.43 179.30 730.64 180.30 730.87 C181.30 731.09 182.30 731.35 183.30 731.62 C184.30 731.90 185.30 732.21 186.30 732.54 C187.30 732.87 188.30 733.22 189.30 733.60 C190.30 733.98 191.30 734.39 192.30 734.83 C193.30 735.26 194.30 735.72 195.30 736.21 C196.30 736.70 197.30 737.22 198.30 737.76 C199.30 738.30 200.30 738.87 201.30 739.46 C202.30 740.06 203.30 740.67 204.30 741.32 C205.30 741.96 206.30 742.63 207.30 743.31 C208.30 744.00 209.30 744.72 210.30 745.45 C211.30 746.18 212.30 746.94 213.30 747.71 C214.30 748.49 215.30 749.29 216.30 750.11 C217.30 750.92 218.30 751.76 219.30 752.62 C220.30 753.47 221.30 754.35 222.30 755.24 C223.30 756.13 224.30 757.04 225.30 757.97 C226.30 758.89 227.30 759.84 228.30 760.79 C229.30 761.75 230.30 762.73 231.30 763.72 C232.30 764.70 233.30 765.71 234.30 766.73 C235.30 767.74 236.30 768.77 237.30 769.82 C238.30 770.86 239.30 771.92 240.30 772.98 C241.30 774.05 242.30 775.13 243.30 776.22 C244.30 777.30 245.30 778.40 246.30 779.51 C247.30 780.62 248.30 781.74 249.30 782.87 C250.30 783.99 251.30 785.13 252.30 786.27 C253.30 787.41 254.30 788.56 255.30 789.71 C256.30 790.87 257.30 792.03 258.30 793.19 C259.30 794.36 260.30 795.53 261.30 796.70 C262.30 797.88 263.30 799.05 264.30 800.23 C265.30 801.41 266.30 802.59 267.30 803.77 C268.30 804.95 269.30 806.14 270.30 807.32 C271.30 808.50 272.30 809.68 273.30 810.86 C274.30 812.04 275.30 813.22 276.30 814.39 C277.30 815.57 278.30 816.74 279.30 817.91 C280.30 819.07 281.30 820.24 282.30 821.40 C283.30 822.55 284.30 823.71 285.30 824.85 C286.30 826.00 287.30 827.14 288.30 828.27 C289.30 829.40 290.30 830.52 291.30 831.64 C292.30 832.75 293.30 833.85 294.30 834.95 C295.30 836.04 296.30 837.12 297.30 838.20 C298.30 839.27 299.30 840.33 300.30 841.38 C301.30 842.43 302.30 843.46 303.30 844.49 C304.30 845.52 305.30 846.53 306.30 847.54 C307.30 848.54 308.30 849.54 309.30 850.52 C310.30 851.50 311.30 852.48 312.30 853.44 C313.30 854.41 314.30 855.36 315.30 856.31 C316.30 857.25 317.30 858.19 318.30 859.11 C319.30 860.04 320.30 860.95 321.30 861.86 C322.30 862.77 323.30 863.67 324.30 864.56 C325.30 865.45 326.30 866.33 327.30 867.21 C328.30 868.08 329.30 868.95 330.30 869.80 C331.30 870.66 332.30 871.51 333.30 872.35 C334.30 873.20 335.30 874.03 336.30 874.86 C337.30 875.69 338.30 876.51 339.30 877.32 C340.30 878.14 341.30 878.94 342.30 879.75 C343.30 880.55 344.30 881.34 345.30 882.13 C346.30 882.92 347.30 883.70 348.30 884.48 C349.30 885.25 350.30 886.02 351.30 886.79 C352.30 887.56 353.30 888.32 354.30 889.07 C355.30 889.82 356.30 890.57 357.30 891.31 C358.30 892.05 359.30 892.79 360.30 893.51 C361.30 894.24 362.30 894.96 363.30 895.67 C364.30 896.37 365.30 897.07 366.30 897.76 C367.30 898.45 368.30 899.13 369.30 899.80 C370.30 900.46 371.30 901.12 372.30 901.76 C373.30 902.41 374.30 903.04 375.30 903.66 C376.30 904.27 377.30 904.88 378.30 905.47 C379.30 906.06 380.30 906.63 381.30 907.19 C382.30 907.75 383.30 908.30 384.30 908.83 C385.30 909.35 386.30 909.87 387.30 910.36 C388.30 910.85 389.30 911.33 390.30 911.79 C391.30 912.24 392.30 912.68 393.30 913.10 C394.30 913.52 395.30 913.92 396.30 914.30 C397.30 914.68 398.30 915.04 399.30 915.38 C400.30 915.72 401.30 916.04 402.30 916.34 C403.30 916.64 404.30 916.92 405.30 917.18 C406.30 917.45 407.30 917.69 408.30 917.92 C409.30 918.15 410.30 918.36 411.30 918.55 C412.30 918.75 413.30 918.93 414.30 919.09 C415.30 919.25 416.30 919.40 417.30 919.53 C418.30 919.67 419.30 919.78 420.30 919.89 C421.30 919.99 422.30 920.08 423.30 920.16 C424.30 920.24 425.30 920.30 426.30 920.35 C427.30 920.41 428.30 920.45 429.30 920.48 C430.30 920.50 431.30 920.52 432.30 920.53 C433.30 920.54 434.30 920.53 435.30 920.52 C436.30 920.51 437.30 920.48 438.30 920.45 C439.30 920.42 440.30 920.38 441.30 920.33 C442.30 920.28 443.30 920.22 444.30 920.16 C445.30 920.10 446.30 920.03 447.30 919.95 C448.30 919.87 449.30 919.79 450.30 919.70 C451.30 919.61 452.30 919.51 453.30 919.42 C454.30 919.32 455.30 919.22 456.30 919.11 C457.30 919.01 458.30 918.91 459.30 918.81 C460.30 918.72 461.30 918.62 462.30 918.54 C463.30 918.46 464.30 918.38 465.30 918.31 C466.30 918.25 467.30 918.19 468.30 918.16 C469.30 918.12 470.30 918.09 471.30 918.09 C472.30 918.09 473.30 918.10 474.30 918.14 C475.30 918.18 476.30 918.24 477.30 918.33 C478.30 918.42 479.30 918.54 480.30 918.68 C481.30 918.83 482.30 919.00 483.30 919.22 C484.30 919.43 485.30 919.67 486.30 919.96 C487.30 920.24 488.30 920.56 489.30 920.93 C490.30 921.29 491.30 921.69 492.30 922.15 C493.30 922.60 494.72 923.35 495.30 923.64 C495.88 923.94 495.72 923.87 495.80 923.92" class="cv"/>
</svg>
</body></html>
